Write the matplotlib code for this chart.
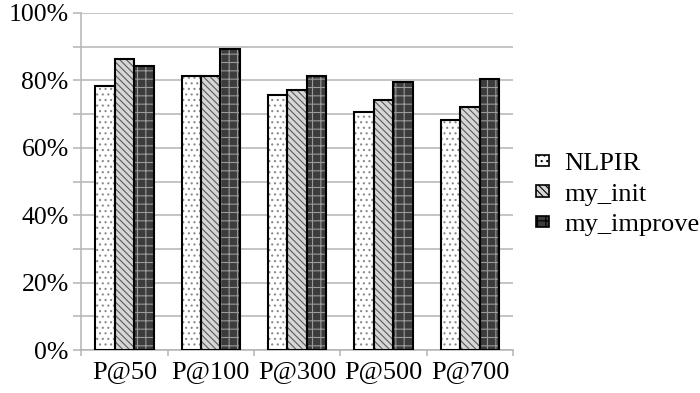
import matplotlib.pyplot as plt
import numpy as np
from matplotlib.patches import Patch

plt.rcParams.update({
    "font.family": ["Liberation Serif", "DejaVu Serif"],
    "hatch.linewidth": 0.8,
})

categories = ["P@50", "P@100", "P@300", "P@500", "P@700"]
nlpir = [78.3, 81.2, 75.7, 70.7, 68.3]
my_init = [86.3, 81.2, 77.3, 74.3, 72.0]
my_improve = [84.2, 89.3, 81.3, 79.5, 80.3]

series = [
    ("NLPIR", nlpir, "white", "#8a8a8a", "..."),
    ("my_init", my_init, "#d6d6d6", "#5a5a5a", "\\\\\\\\\\"),
    ("my_improve", my_improve, "#3c3c3c", "#9a9a9a", "++"),
]

fig = plt.figure(figsize=(7, 3.93), dpi=100)
ax = fig.add_axes([0.116, 0.109, 0.617, 0.858])

x = np.arange(len(categories))
width = 0.225
grid_color = "#b4b4b4"

handles = []
for i, (name, vals, fc, hc, hatch) in enumerate(series):
    pos = x + (i - 1) * width
    ax.bar(pos, vals, width, color=fc, edgecolor=hc, hatch=hatch, linewidth=0, zorder=2)
    ax.bar(pos, vals, width, fill=False, edgecolor="black", linewidth=1.5, zorder=3)
    handles.append(Patch(facecolor=fc, edgecolor="black", hatch=hatch, linewidth=1.2, label=name))

ax.set_xlim(-0.5, len(categories) - 0.5)
ax.set_ylim(0, 100)
ax.set_yticks(np.arange(0, 101, 20))
ax.set_yticks(np.arange(0, 101, 10), minor=True)
ax.set_yticklabels([f"{v}%" for v in range(0, 101, 20)])
ax.yaxis.grid(True, which="both", color=grid_color, linewidth=1.1, zorder=0)
ax.set_axisbelow(True)

ax.set_xticks(x)
ax.set_xticklabels(categories)
ax.set_xticks(np.arange(-0.5, len(categories), 1), minor=True)
ax.tick_params(axis="x", which="major", length=0, pad=8, labelsize=19)
ax.tick_params(axis="x", which="minor", length=4, width=1.1, color=grid_color)
ax.tick_params(axis="y", which="both", length=6, width=1.1, color=grid_color, labelsize=18.5, pad=3)

for side in ["top", "right"]:
    ax.spines[side].set_visible(False)
for side in ["left", "bottom"]:
    ax.spines[side].set_color(grid_color)
    ax.spines[side].set_linewidth(1.1)

fig.legend(handles=handles, loc="center left", bbox_to_anchor=(0.765, 0.505),
           frameon=False, fontsize=19, handlelength=0.5, handleheight=0.3,
           handletextpad=0.6, labelspacing=0.32, borderpad=0, borderaxespad=0)

fig.savefig("out.png", dpi=100)
